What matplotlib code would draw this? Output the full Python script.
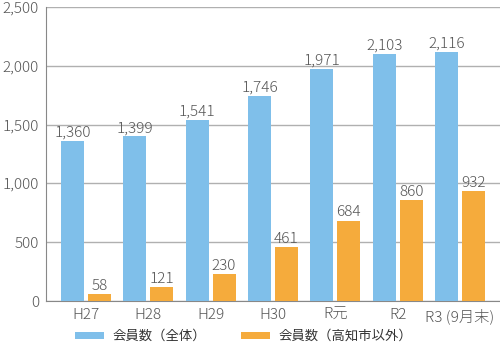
import numpy as np
import matplotlib
matplotlib.use('Agg')
import matplotlib.pyplot as plt

plt.rcParams['font.family'] = ['Noto Sans CJK JP', 'DejaVu Sans']
plt.rcParams['font.weight'] = 'light'

categories = ['H27', 'H28', 'H29', 'H30', 'R元', 'R2', 'R3 (9月末)']
total = [1360, 1399, 1541, 1746, 1971, 2103, 2116]
outside = [58, 121, 230, 461, 684, 860, 932]
labels = ['会員数（全体）', '会員数（高知市以外）']

blue = '#7fbfea'
orange = '#f5ab3c'
txt = '#555555'

fig = plt.figure(figsize=(5, 3.46), dpi=100)
ax = fig.add_axes([0.092, 0.13, 0.908, 0.85])

x = np.arange(len(categories))
w = 0.37
off = 0.216
b1 = ax.bar(x - off, total, w, color=blue, label=labels[0], zorder=3)
b2 = ax.bar(x + off, outside, w, color=orange, label=labels[1], zorder=3)

for xi, v in zip(x, total):
    ax.text(xi - off, v + 10, f'{v:,}', ha='center', va='bottom', fontsize=11, color=txt)
for xi, v in zip(x, outside):
    ax.text(xi + off, v + 10, f'{v:,}', ha='center', va='bottom', fontsize=11, color=txt)

ax.set_ylim(0, 2500)
ax.set_xlim(-0.64, 6.64)
ax.set_yticks(range(0, 2501, 500))
ax.set_yticklabels([f'{t:,}' for t in range(0, 2501, 500)])
ax.set_xticks(x)
ax.set_xticklabels(categories)
ax.tick_params(length=0, labelsize=11, colors=txt, pad=5)
ax.yaxis.grid(True, color='#b0b0b0', linewidth=1, zorder=0)
for s in ['top', 'right']:
    ax.spines[s].set_visible(False)
ax.spines['left'].set_color('#888888')
ax.spines['bottom'].set_color('#888888')

fig.legend(handles=[b1, b2], loc='center', bbox_to_anchor=(0.487, 0.029), ncol=2,
           frameon=False, prop={'size': 9.6, 'weight': 'normal'},
           handlelength=2.2, handleheight=0.45,
           handletextpad=0.6, columnspacing=2.6, labelcolor='#333333',
           borderaxespad=0, borderpad=0)

fig.savefig('out.png', dpi=100)
